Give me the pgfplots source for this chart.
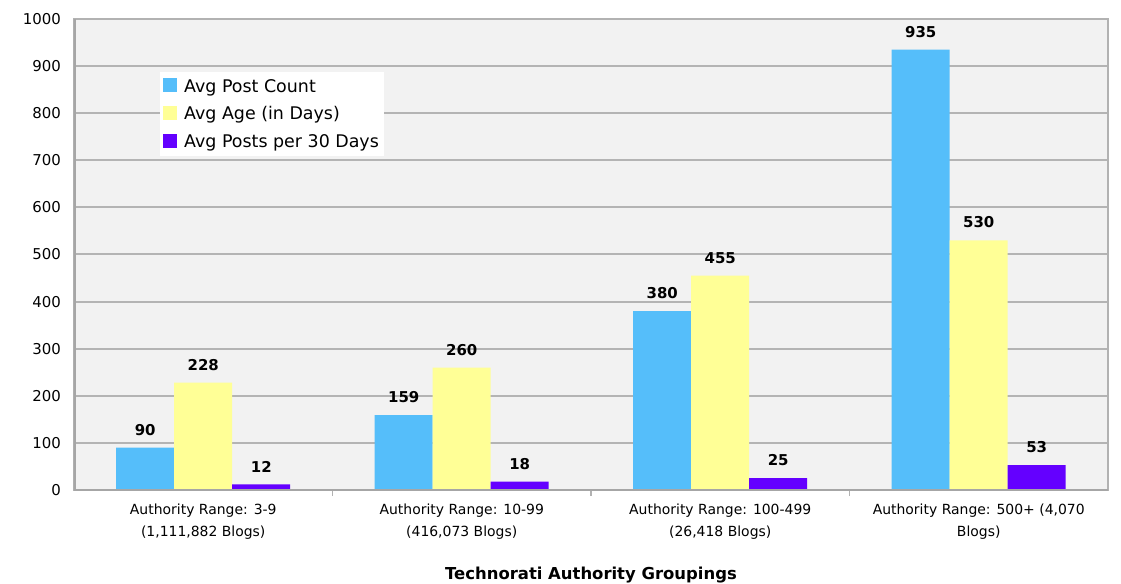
\documentclass[border=0pt]{standalone}
\usepackage{pgfplots}
\pgfplotsset{compat=1.18}
\usepackage{fontspec}
\setmainfont{DejaVu Sans}

\definecolor{postblue}{RGB}{85,190,250}
\definecolor{ageyellow}{RGB}{255,255,150}
\definecolor{ratepurple}{RGB}{100,0,255}
\definecolor{bggray}{RGB}{242,242,242}
\definecolor{gridgray}{RGB}{180,180,180}

\begin{document}
\begin{tikzpicture}
\useasboundingbox (-74bp,-94bp) rectangle (1047bp,490bp);
\begin{axis}[
    at={(0,0)}, anchor=south west,
    scale only axis,
    width=1034bp, height=471bp,
    ybar=0pt, bar width=58bp,
    xmin=0.5, xmax=4.5,
    ymin=0, ymax=1000,
    ytick={0,100,...,1000},
    xtick={1,2,3,4},
    xtick pos=lower, ytick pos=left,
    xticklabels={{Authority Range: 3-9\\(1,111,882 Blogs)},
                 {Authority Range: 10-99\\(416,073 Blogs)},
                 {Authority Range: 100-499\\(26,418 Blogs)},
                 {Authority Range: 500+ (4,070\\Blogs)}},
    xticklabel style={align=center, font=\fontsize{14}{22}\selectfont, inner sep=0pt, yshift=-14bp},
    yticklabel style={font=\fontsize{15}{18}\selectfont, inner sep=0pt, xshift=-13bp},
    /pgf/number format/assume math mode=true,
    /pgf/number format/1000 sep={},
    major tick length=0pt,
    ymajorgrids,
    major grid style={draw=gridgray, line width=2bp},
    axis background/.style={fill=bggray},
    axis line style={draw=gray!60, line width=1.5bp},
    extra x ticks={1.5,2.5,3.5},
    extra x tick labels={},
    extra x tick style={major tick length=6bp, tick align=outside, xmajorgrids=false, ymajorgrids=false, tick style={draw=gray!60, line width=1.5bp}},
    xlabel={\bfseries Technorati Authority Groupings},
    xlabel style={at={(axis description cs:0.5,0)}, anchor=center, yshift=-85bp, font=\fontsize{16.5}{18}\selectfont},
    nodes near coords,
    nodes near coords style={font=\fontsize{15}{18}\selectfont\bfseries, inner sep=0pt, anchor=south, yshift=12bp},
    legend style={at={(0.0832,0.8875)}, anchor=north west, fill=white, draw=none,
                  font=\fontsize{17.5}{20}\selectfont, inner xsep=3bp, inner ysep=5bp,
                  row sep=9bp},
    legend cell align=left,
    legend image code/.code={\fill[#1] (0bp,-6bp) rectangle (14bp,8bp); \path (19bp,0bp);},
]
\addplot[fill=postblue, draw=none] coordinates {(1,90) (2,159) (3,380) (4,935)};
\addlegendentry{Avg Post Count}
\addplot[fill=ageyellow, draw=none] coordinates {(1,228) (2,260) (3,455) (4,530)};
\addlegendentry{Avg Age (in Days)}
\addplot[fill=ratepurple, draw=none] coordinates {(1,12) (2,18) (3,25) (4,53)};
\addlegendentry{Avg Posts per 30 Days}
\draw[gray!70, line width=4bp] (rel axis cs:0,0) -- (rel axis cs:0,1);
\draw[gray!70, line width=3bp] (rel axis cs:0,0) -- (rel axis cs:1,0);
\end{axis}
\end{tikzpicture}
\end{document}
